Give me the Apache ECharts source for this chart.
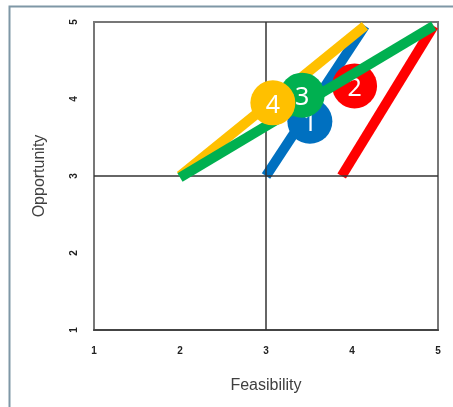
<!DOCTYPE html>
<html><head><meta charset="utf-8">
<script src="https://cdn.jsdelivr.net/npm/echarts@6/dist/echarts.min.js"></script>
<style>html,body{margin:0;padding:0;background:#fff}#c{width:453px;height:407px}</style>
</head><body><div id="c"></div>
<script>
var xTicks = [1, 2, 3, 4, 5];
var yTicks = [1, 2, 3, 4, 5];
var blueLine = [[3.0, 3.0], [4.15, 4.95]];
var redLine = [[3.88, 3.0], [4.95, 4.95]];
var yellowLine = [[2.0, 3.0], [4.15, 4.95]];
var greenLine = [[2.0, 2.98], [4.95, 4.95]];
var bubbleLabels = ['1', '2', '3', '4'];
var bubbleX = [3.51, 4.03, 3.42, 3.08];
var bubbleY = [3.71, 4.17, 4.05, 3.95];
var crossX = 3, crossY = 3;

var colors = {blue: '#0070C0', red: '#FF0000', green: '#00B050', yellow: '#FFC000'};
var bubbleColors = [colors.blue, colors.red, colors.green, colors.yellow];
var bubbleZ = [5, 4, 7, 8];

function lineSeries(data, color, z) {
  return {type: 'line', data: data, symbol: 'none', z: z, silent: true,
    lineStyle: {color: color, width: 10, cap: 'butt'}};
}
function bubble(i) {
  return {type: 'scatter', z: bubbleZ[i], symbolSize: 45,
    data: [[bubbleX[i], bubbleY[i], bubbleLabels[i]]],
    itemStyle: {color: bubbleColors[i], opacity: 1},
    label: {show: true, position: 'inside', offset: [0, 3], formatter: function (p) { return p.value[2]; },
      color: '#fff', fontSize: 25, fontFamily: 'Noto Sans'}};
}

var series = [
  lineSeries(redLine, colors.red, 2),
  lineSeries(blueLine, colors.blue, 2),
  lineSeries(yellowLine, colors.yellow, 3),
  lineSeries(greenLine, colors.green, 6),
  bubble(0), bubble(1), bubble(2), bubble(3),
  {type: 'line', data: [], z: 1, silent: true,
    markLine: {symbol: 'none', silent: true, label: {show: false},
      lineStyle: {color: '#333', width: 1.5, type: 'solid'},
      data: [{xAxis: crossX}, {yAxis: crossY}]}}
];

var chart = echarts.init(document.getElementById('c'));
chart.setOption({
  animation: false,
  graphic: [{type: 'polyline', shape: {points: [[9.5, 407], [9.5, 6.5], [453, 6.5]]},
    style: {stroke: '#7f97a6', lineWidth: 2, fill: null}}],
  grid: {left: 94, top: 22, width: 344, height: 308, show: true, borderColor: '#777', borderWidth: 2},
  xAxis: {type: 'value', min: xTicks[0], max: xTicks[xTicks.length - 1], interval: 1,
    name: 'Feasibility', nameLocation: 'middle', nameGap: 48,
    nameTextStyle: {fontSize: 16, color: '#404040', fontFamily: 'Liberation Sans'},
    axisLine: {show: true, lineStyle: {color: '#444', width: 2}}, axisTick: {show: false},
    splitLine: {show: false},
    axisLabel: {margin: 16, fontSize: 10, fontWeight: 'bold', color: '#222', fontFamily: 'Liberation Sans'}},
  yAxis: {type: 'value', min: yTicks[0], max: yTicks[yTicks.length - 1], interval: 1,
    name: 'Opportunity', nameLocation: 'middle', nameGap: 46,
    nameTextStyle: {fontSize: 16, color: '#404040', fontFamily: 'Liberation Sans'},
    axisLine: {show: true, lineStyle: {color: '#777', width: 2}}, axisTick: {show: false},
    splitLine: {show: false},
    axisLabel: {margin: 15, rotate: 90, fontSize: 10, fontWeight: 'bold', color: '#222', fontFamily: 'Liberation Sans'}},
  series: series
});
</script></body></html>
